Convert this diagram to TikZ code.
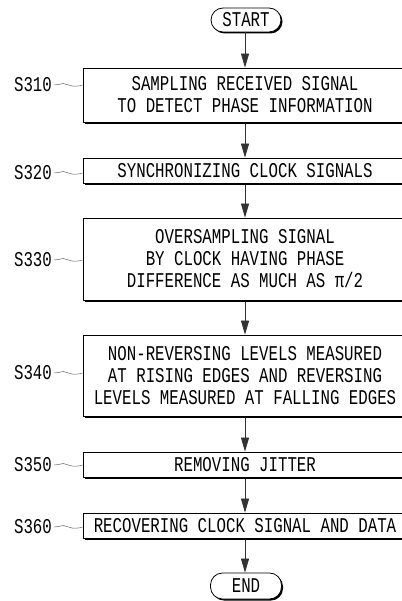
\documentclass[tikz,border=0pt]{standalone}
\usepackage{fontspec}
\newfontfamily\boxfont[FakeStretch=0.75]{Liberation Mono}
\usetikzlibrary{arrows.meta,shadows}
\begin{document}
\begin{tikzpicture}[x=1pt,y=-1pt,
  every node/.style={font=\boxfont\fontsize{21}{22}\selectfont},
  stepbox/.style={draw=black,line width=0.8pt,fill=white,minimum width=324pt,
    inner sep=0pt,align=center,
    drop shadow={shadow xshift=2pt,shadow yshift=-2pt,fill=black,opacity=1}},
  termbox/.style={draw=black,line width=0.8pt,fill=white,rounded corners=12pt,
    inner sep=0pt,align=center,
    drop shadow={shadow xshift=1.5pt,shadow yshift=-1.5pt,fill=black,opacity=1}},
  steplabel/.style={inner sep=0pt},
  flow/.style={line width=0.7pt,draw=black!80,-{Triangle[length=14pt,width=8pt]}},
  wave/.style={line width=0.5pt,draw=black!60}
]
\useasboundingbox (0,0) rectangle (401,601);
\fill[white] (0,0) rectangle (401,601);

\node[termbox,minimum width=70pt,minimum height=24pt] (start) at (246,20) {START};
\node[stepbox,minimum height=54pt] (s310) at (245,95) {SAMPLING RECEIVED SIGNAL\\TO DETECT PHASE INFORMATION};
\node[stepbox,minimum height=25pt] (s320) at (245,170.5) {SYNCHRONIZING CLOCK SIGNALS};
\node[stepbox,minimum height=82pt] (s330) at (245,259) {OVERSAMPLING SIGNAL\\BY CLOCK HAVING PHASE\\DIFFERENCE AS MUCH AS π/2};
\node[stepbox,minimum height=81pt] (s340) at (245,375.5) {NON-REVERSING LEVELS MEASURED\\AT RISING EDGES AND REVERSING\\LEVELS MEASURED AT FALLING EDGES};
\node[stepbox,minimum height=25pt] (s350) at (245,464.5) {REMOVING JITTER};
\node[stepbox,minimum height=25pt] (s360) at (245,525.5) {RECOVERING CLOCK SIGNAL AND DATA};
\node[termbox,minimum width=71pt,minimum height=26pt] (end) at (246,586) {END};

\draw[flow] (245,32) -- (s310.north -| 245,0);
\draw[flow] (s310.south -| 245,0) ++(0,2) -- (s320.north -| 245,0);
\draw[flow] (s320.south -| 245,0) ++(0,2) -- (s330.north -| 245,0);
\draw[flow] (s330.south -| 245,0) ++(0,2) -- (s340.north -| 245,0);
\draw[flow] (s340.south -| 245,0) ++(0,2) -- (s350.north -| 245,0);
\draw[flow] (s350.south -| 245,0) ++(0,2) -- (s360.north -| 245,0);
\draw[flow] (s360.south -| 245,0) ++(0,2) -- (end.north -| 245,0);

\foreach \n/\y in {310/85,320/173,330/260,340/373,350/465,360/527}{
  \node[steplabel] (l\n) at (33,\y) {S\n};
  \coordinate (w\n) at (s\n.west |- l\n.east);
  \draw[wave] (l\n.east) ++(2,0) to[out=-10,in=180] ++(9,-1.5)
     to[out=0,in=180] ++(9,2.5) to[out=0,in=200] (w\n);
}
\end{tikzpicture}
\end{document}
